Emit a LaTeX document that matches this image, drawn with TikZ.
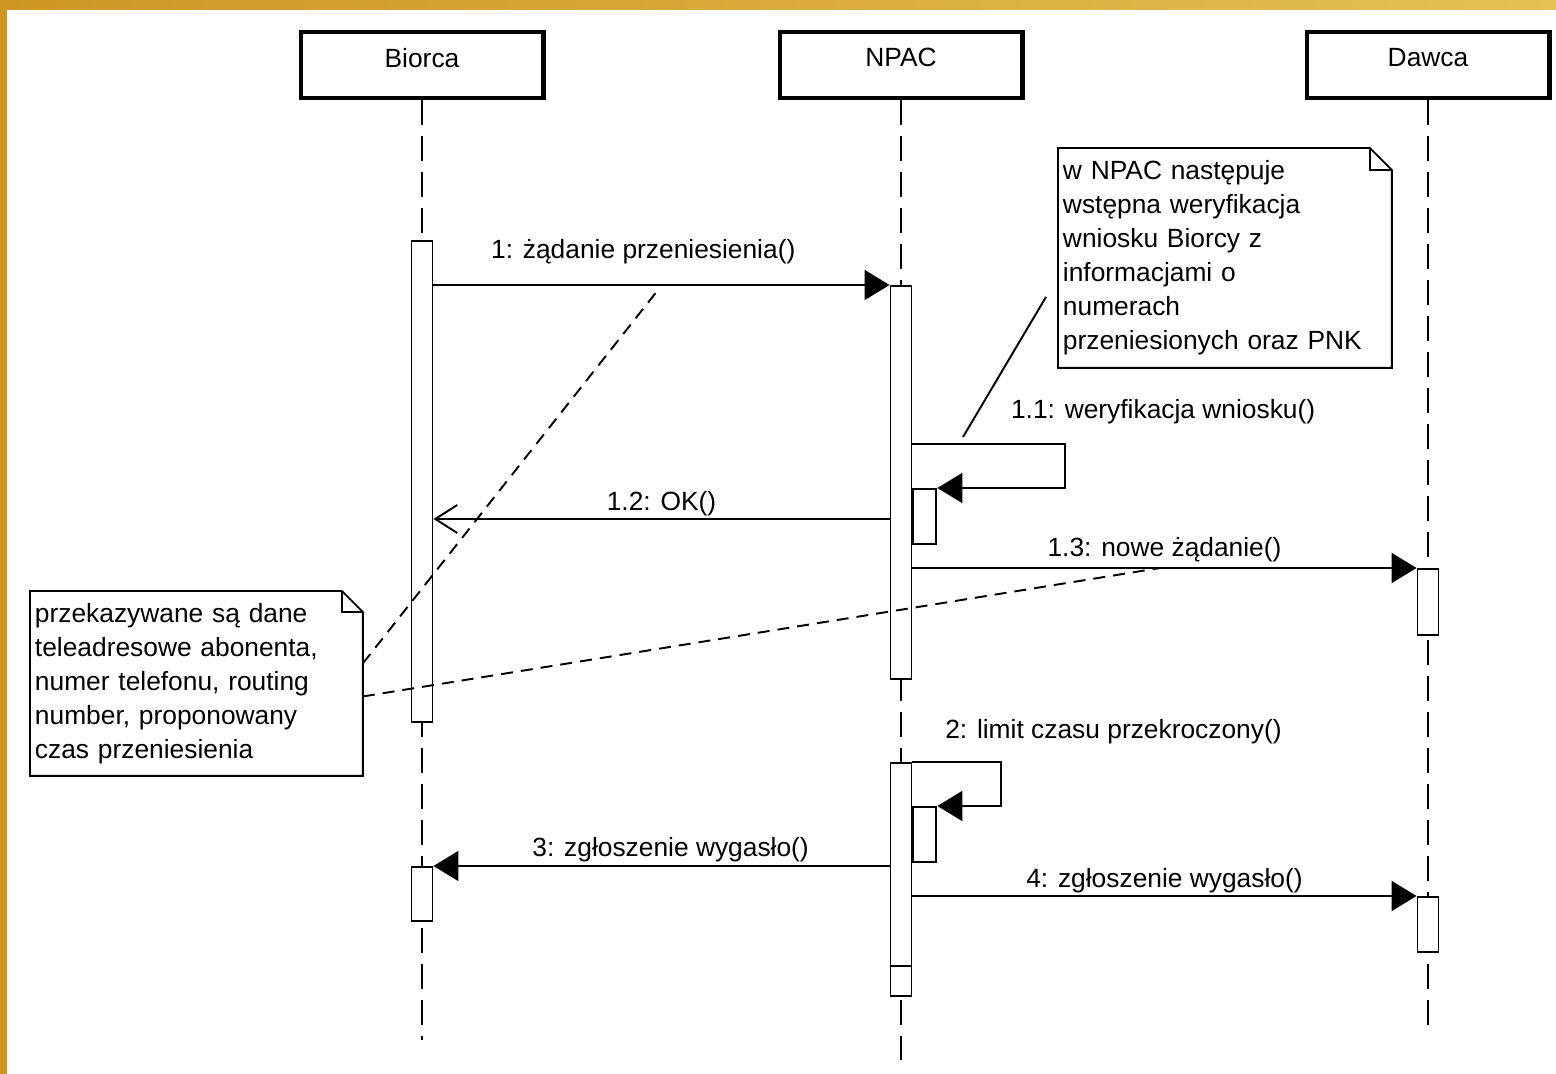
\documentclass[tikz,border=0pt]{standalone}
\usepackage{fontspec}
\setmainfont{Liberation Sans}
\usetikzlibrary{calc}
\usetikzlibrary{positioning}
\usetikzlibrary{arrows.meta}
\definecolor{golddark}{RGB}{205,150,35}
\definecolor{goldlight}{RGB}{228,192,85}

\begin{document}
\begin{tikzpicture}[x=0.02cm, y=-0.02cm, line width=1.1pt, font=\fontsize{15}{19.4}\selectfont]
			\tikzstyle{head}=[draw=black, line width=2.3pt, fill=white, minimum width=4.86cm, minimum height=1.32cm, inner sep=0pt, text depth=0.3cm]
			\tikzstyle{bar}=[draw=black, fill=white, minimum width=0.42cm, inner sep=0pt, anchor=north]
			\tikzstyle{subbar}=[draw=black, fill=white, minimum width=0.46cm, minimum height=1.1cm, inner sep=0pt, anchor=north west]
			\tikzstyle{life}=[dash pattern=on 0.5cm off 0.22cm]
			\tikzstyle{msg}=[-{Triangle[length=0.5cm, width=0.6cm]}]
			\tikzstyle{reply}=[-{Straight Barb[length=0.44cm, width=0.56cm]}]
			\tikzstyle{lbl}=[inner sep=0pt, fill=none]
			\tikzstyle{notebox}=[inner sep=0pt, inner xsep=0.08cm, align=left, anchor=north west]
			\tikzstyle{anchorline}=[dash pattern=on 0.24cm off 0.16cm]
			
			\useasboundingbox (0,0) rectangle (1556,1074);
			\fill[golddark] (0,0) rectangle (7,1074);
			\shade[left color=golddark, right color=goldlight] (0,0) rectangle (1556,10);
			\fill[white] (7,10) rectangle (1556,1074);
			
			\node[head] (biorca) at (422,65) {Biorca};
			\node[head] (npac) at (901,65) {NPAC};
			\node[head] (dawca) at (1428,65) {Dawca};
			
			\draw[life] (biorca.south) -- (biorca |- 0,1040);
			\draw[life] (npac.south) -- (npac |- 0,1060);
			\draw[life] (dawca.south) -- (dawca |- 0,1030);
			
			\node[bar, minimum height=9.62cm] (b1) at (422,240) {};
			\node[bar, minimum height=1.08cm] (b2) at (422,866) {};
			\node[bar, minimum height=7.86cm] (n1) at (901,285) {};
			\node[subbar] (n1a) at (n1.east |- 0,488) {};
			\node[bar, minimum height=4.06cm] (n2) at (901,762) {};
			\node[bar, minimum height=0.6cm, below=-1.1pt of n2] (n2b) {};
			\node[subbar] (n2a) at (n2.east |- 0,806) {};
			\node[bar, minimum height=1.32cm] (d1) at (1428,568) {};
			\node[bar, minimum height=1.1cm] (d2) at (1428,896) {};
			
			\coordinate (self1) at (1065,444);
			\coordinate (self2) at (1001,762);
			
			\draw[msg] (b1.east |- n1.north) -- node[lbl, pos=0.46, above=0.4cm] {1: żądanie przeniesienia()} (n1.north west);
			\draw[msg] (n1.east |- self1) -- node[lbl, pos=0.64, anchor=south west, yshift=0.38cm] {1.1: weryfikacja wniosku()} (self1) |- (n1a.north east);
			\draw[reply] (n1.west |- 0,519) -- node[lbl, pos=0.5, above=0.04cm] {1.2: OK()} (b1.east |- 0,519);
			\draw[msg] (n1.east |- d1.north) -- node[lbl, pos=0.5, above=0.1cm] {1.3: nowe żądanie()} (d1.north west);
			\draw[msg] (n2.north east) -- node[lbl, pos=0.36, anchor=south west, yshift=0.34cm] {2: limit czasu przekroczony()} (self2) |- (n2a.north east);
			\draw[msg] (n2.west |- b2.north) -- node[lbl, pos=0.48, above=0.06cm] {3: zgłoszenie wygasło()} (b2.north east);
			\draw[msg] (n2.east |- d2.north) -- node[lbl, pos=0.5, above=0.04cm] {4: zgłoszenie wygasło()} (d2.north west);
			
			\node[notebox, text width=6.48cm, minimum height=4.36cm] (noteA) at (1058,148) {w NPAC następuje\\wstępna weryfikacja\\wniosku Biorcy z\\informacjami o\\numerach\\przeniesionych oraz PNK};
			\node[notebox, text width=6.46cm, minimum height=3.66cm] (noteB) at (30,591) {przekazywane są dane\\teleadresowe abonenta,\\numer telefonu, routing\\number, proponowany\\czas przeniesienia};
			\draw (noteA.north west) -- ($(noteA.north east)-(22,0)$) -- ($(noteA.north east)+(0,22)$) -- (noteA.south east) -- (noteA.south west) -- cycle;
			\draw ($(noteA.north east)-(22,0)$) |- ($(noteA.north east)+(0,22)$);
			\draw (noteB.north west) -- ($(noteB.north east)-(21,0)$) -- ($(noteB.north east)+(0,21)$) -- (noteB.south east) -- (noteB.south west) -- cycle;
			\draw ($(noteB.north east)-(21,0)$) |- ($(noteB.north east)+(0,21)$);
			
			\coordinate (tipA) at (963,437);
			\coordinate (tipB1) at (658,290);
			\coordinate (tipB2) at (1160,568);
			\draw ($(noteA.west)+(-12,39)$) -- (tipA);
			\draw[anchorline] ($(noteB.east)+(0,-20)$) -- (tipB1);
			\draw[anchorline] ($(noteB.east)+(0,13)$) -- (tipB2);
		\end{tikzpicture}
\end{document}
